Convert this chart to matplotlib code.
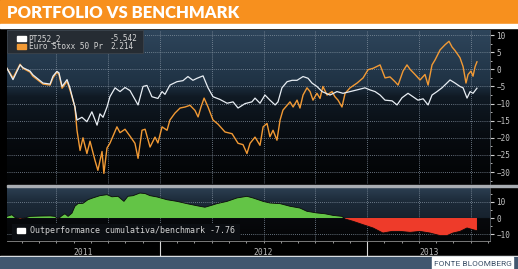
import matplotlib
matplotlib.use("Agg")
import matplotlib.pyplot as plt
import numpy as np
from matplotlib.colors import LinearSegmentedColormap
from matplotlib.patches import Rectangle
from matplotlib.ticker import MultipleLocator
import matplotlib.transforms as mtransforms

title = "PORTFOLIO VS BENCHMARK"
source = "FONTE BLOOMBERG"
name_pt = "PT252_2"
name_eu = "Euro Stoxx 50 Pr"
last_pt = "-5.542"
last_eu = "2.214"
op_name = "Outperformance cumulativa/benchmark"
last_op = "-7.76"
years = ["2011", "2012", "2013"]
year_centers = [2011.63, 2012.5, 2013.3]
quarters = [2011.5, 2011.75, 2012.0, 2012.25, 2012.5, 2012.75, 2013.0, 2013.25, 2013.5]

# time as decimal year
pt_t = [2011.261, 2011.290, 2011.324, 2011.338, 2011.372, 2011.386, 2011.435, 2011.469, 2011.483, 2011.502,
        2011.512, 2011.527, 2011.551, 2011.565, 2011.589, 2011.599, 2011.623, 2011.647, 2011.671, 2011.696,
        2011.710, 2011.725, 2011.744, 2011.758, 2011.783, 2011.807, 2011.831, 2011.855, 2011.894, 2011.918,
        2011.937, 2011.961, 2011.990, 2012.010, 2012.024, 2012.048, 2012.082, 2012.111, 2012.135, 2012.159,
        2012.179, 2012.208, 2012.232, 2012.256, 2012.290, 2012.324, 2012.353, 2012.377, 2012.411, 2012.444,
        2012.459, 2012.483, 2012.507, 2012.531, 2012.556, 2012.570, 2012.589, 2012.614, 2012.638, 2012.662,
        2012.691, 2012.715, 2012.734, 2012.758, 2012.783, 2012.821, 2012.855, 2012.884, 2012.918, 2012.952,
        2012.990, 2013.014, 2013.039, 2013.063, 2013.087, 2013.121, 2013.145, 2013.169, 2013.198, 2013.222,
        2013.246, 2013.271, 2013.295, 2013.314, 2013.338, 2013.362, 2013.386, 2013.401, 2013.425, 2013.449,
        2013.464, 2013.483, 2013.498, 2013.512, 2013.531]
pt_v = [0.3, -3, 1.3, 0.5, -0.5, -1.6, -4, -4.3, -2, -0.6,
        -1, -5, -3, -5.4, -11, -14.8, -14, -15.3, -12.4, -16.3,
        -13, -14, -11, -8, -5.4, -6.5, -5.3, -6.2, -10.4, -5,
        -4.7, -8, -8.5, -6.5, -7.3, -4.6, -3.6, -3.3, -2.1, -3.2,
        -2.6, -1.9, -5.4, -8, -8.8, -9.9, -9.5, -11.3, -10, -9.5,
        -8.4, -9.9, -7.5, -9, -10.4, -9.5, -5.4, -3.6, -3.2, -3.2,
        -2.1, -2.6, -4, -5, -6.5, -7.5, -6.5, -7, -6.5, -6,
        -5.4, -6, -6.5, -7.5, -9, -9.2, -10.4, -8.3, -7, -8,
        -9, -8.6, -10.4, -7.5, -6.5, -5.4, -4, -3.1, -4, -5,
        -5.4, -8.4, -6.5, -7, -5.5]

eu_t = [2011.261, 2011.290, 2011.324, 2011.338, 2011.372, 2011.386, 2011.435, 2011.469, 2011.483, 2011.502,
        2011.512, 2011.527, 2011.551, 2011.565, 2011.589, 2011.599, 2011.614, 2011.628, 2011.647, 2011.662,
        2011.686, 2011.700, 2011.720, 2011.729, 2011.744, 2011.758, 2011.773, 2011.792, 2011.807, 2011.831,
        2011.855, 2011.879, 2011.894, 2011.913, 2011.928, 2011.952, 2011.976, 2011.990, 2012.010, 2012.034,
        2012.048, 2012.072, 2012.097, 2012.121, 2012.145, 2012.169, 2012.184, 2012.198, 2012.213, 2012.232,
        2012.256, 2012.280, 2012.314, 2012.348, 2012.377, 2012.401, 2012.420, 2012.435, 2012.459, 2012.483,
        2012.498, 2012.517, 2012.531, 2012.546, 2012.565, 2012.580, 2012.594, 2012.614, 2012.628, 2012.643,
        2012.662, 2012.676, 2012.691, 2012.710, 2012.725, 2012.739, 2012.758, 2012.773, 2012.787, 2012.807,
        2012.831, 2012.845, 2012.860, 2012.879, 2012.894, 2012.918, 2012.952, 2012.981, 2013.005, 2013.029,
        2013.063, 2013.087, 2013.111, 2013.135, 2013.150, 2013.174, 2013.193, 2013.208, 2013.232, 2013.256,
        2013.280, 2013.295, 2013.314, 2013.329, 2013.353, 2013.377, 2013.396, 2013.411, 2013.425, 2013.449,
        2013.464, 2013.478, 2013.488, 2013.502, 2013.512, 2013.522, 2013.531]
eu_v = [0.3, -2.5, 1.5, 0.3, -0.8, -2, -4.3, -4.6, -2.5, -0.8,
        -1.5, -5.5, -3.5, -6, -11, -17.8, -23.7, -20, -24.6, -21,
        -26.6, -29.5, -24, -30.4, -23, -21.6, -19.5, -16.8, -18.5, -17.5,
        -19.5, -21.6, -26, -17.8, -17.5, -22.7, -19.8, -21.5, -16.8, -17.8,
        -14.8, -12.8, -11.3, -11, -10.5, -12, -13.9, -11, -8.4, -11,
        -14.8, -16, -18.3, -18.8, -21.6, -22, -24.6, -21.6, -19.8, -22.2,
        -16.8, -15.8, -19.7, -17.8, -20.7, -14.8, -11.9, -10.5, -9.5, -11,
        -9, -11.3, -7.5, -5.4, -6.5, -9, -7, -8.5, -5, -7.5,
        -6.5, -8, -9, -11, -7, -5.4, -4, -2.5, -0.1, 0.3,
        1.3, -2.5, -2.2, -3.6, -4.6, -0.5, 1.3, 0, -1.5, -3.1,
        -1.5, -4.6, 1.3, 2.8, 5.7, 7.2, 8.2, 6.5, 5.5, 3.4,
        0.8, -4, -1.5, -0.5, -2, 0.8, 2.2]

op_t = [2011.261, 2011.285, 2011.300, 2011.324, 2011.348, 2011.372, 2011.420, 2011.469, 2011.493, 2011.507,
        2011.527, 2011.541, 2011.556, 2011.575, 2011.589, 2011.604, 2011.628, 2011.652, 2011.676, 2011.710,
        2011.744, 2011.768, 2011.797, 2011.826, 2011.845, 2011.870, 2011.903, 2011.928, 2011.952, 2011.986,
        2012.034, 2012.082, 2012.130, 2012.179, 2012.217, 2012.242, 2012.275, 2012.324, 2012.372, 2012.420,
        2012.449, 2012.498, 2012.531, 2012.580, 2012.628, 2012.676, 2012.710, 2012.758, 2012.797, 2012.836,
        2012.879, 2012.894, 2012.932, 2012.981, 2013.029, 2013.077, 2013.121, 2013.159, 2013.208, 2013.256,
        2013.304, 2013.353, 2013.386, 2013.415, 2013.449, 2013.483, 2013.507, 2013.531]
op_v = [1, 2, 0.3, -0.6, 0, 1, 1.2, 1.3, 1, -0.6,
        1.5, 2.6, 1, 3, 7.2, 8.8, 9, 11.2, 12.3, 13.7,
        14.3, 13, 13.3, 10.2, 13.3, 13.7, 15.3, 15, 13.7, 12.9,
        11.2, 10.2, 8.8, 7.5, 6.6, 7.5, 8.8, 10.2, 12.3, 13.3,
        12.3, 10.2, 9.2, 8.8, 7.2, 6.1, 4.1, 3.1, 2.6, 1.6,
        1, -0.6, -2, -4.1, -6.1, -9.2, -8.2, -8.2, -8.8, -8.2,
        -9.2, -10.8, -10.8, -9.2, -8.2, -6.1, -7, -7.8]

W, H = 518, 269
fig = plt.figure(figsize=(W / 100, H / 100), dpi=100, facecolor="black")


def fy(y):
    return 1 - y / H


def fit_text(t, width_px):
    # shrink/grow a text so that it spans width_px pixels
    r = fig.canvas.get_renderer()
    w = t.get_window_extent(renderer=r).width
    t.set_fontsize(t.get_fontsize() * width_px / w)


# frame pieces
fig.patches.append(Rectangle((0, fy(24)), 1, 24 / H, transform=fig.transFigure, color="#f7901e"))
fig.patches.append(Rectangle((0, fy(28)), 1, 4 / H, transform=fig.transFigure, color="white"))
fig.patches.append(Rectangle((0, 0), 1, 13 / H, transform=fig.transFigure, color="white"))
fig.patches.append(Rectangle((0, 0), 1, 12 / H, transform=fig.transFigure, color="#41576f"))
fig.patches.append(Rectangle((432 / W, 0), 81 / W, 12 / H, transform=fig.transFigure, color="white"))
fig.patches.append(Rectangle((7 / W, fy(187)), 511 / W, 2.5 / H, transform=fig.transFigure, color="#a9adb2"))

t_title = fig.text(7 / W, fy(18.5), title, color="white", fontsize=13, fontweight="heavy",
                   family=["Lato", "DejaVu Sans"], va="baseline", ha="left")
fit_text(t_title, 230)
t_src = fig.text(472.5 / W, fy(266.5), source, color="#3d5169", fontsize=7.5,
                 family=["Roboto", "DejaVu Sans"], va="baseline", ha="center")
fit_text(t_src, 78)

mono = "DejaVu Sans Mono"
grid_kw = dict(color="#8593a2", linestyle=(0, (1, 1.5)), linewidth=0.6, zorder=1)

# ---- main panel
ax1 = fig.add_axes([7 / W, fy(184), 483 / W, 154 / H])
x0, x1 = 2011.261, 2013.594
y0, y1 = -33.5, 11.5
cmap1 = LinearSegmentedColormap.from_list("bg1", [(0, "#020304"), (0.3, "#070b10"), (0.567, "#101a24"),
                                                  (0.656, "#1f3244"), (1, "#2e455b")])
ax1.imshow(np.linspace(0, 1, 200).reshape(-1, 1), extent=[x0, x1, y0, y1], origin="lower",
           aspect="auto", cmap=cmap1, zorder=0)
for q in quarters:
    ax1.axvline(q, **grid_kw)
for lv in range(-30, 11, 5):
    ax1.axhline(lv, **grid_kw)

ax1.plot(eu_t, eu_v, color="#f29a35", lw=1.0, zorder=3)
ax1.plot(pt_t, pt_v, color="#e8eef4", lw=0.9, zorder=4)
ax1.set_xlim(x0, x1)
ax1.set_ylim(y0, y1)
ax1.set_xticks([])
ax1.yaxis.tick_right()
ax1.set_yticks(range(-30, 11, 5))
ax1.yaxis.set_minor_locator(MultipleLocator(2.5))
ax1.tick_params(axis="y", which="major", length=3, width=0.8, color="#d0d0d0", labelsize=5.5,
                labelcolor="#c4c4c4", pad=1.5)
ax1.tick_params(axis="y", which="minor", length=1.5, width=0.6, color="#d0d0d0")
for lab in ax1.get_yticklabels():
    lab.set_family(mono)
for s in ax1.spines.values():
    s.set_visible(False)
ax1.spines["right"].set_visible(True)
ax1.spines["right"].set_color("#5a6068")
ax1.spines["right"].set_linewidth(0.6)

# legend box
ax1.add_patch(Rectangle((0, 0.851), 0.2816, 0.149, transform=ax1.transAxes, facecolor="#262c33",
                        edgecolor="#3c434b", lw=0.6, zorder=5))
ax1.add_patch(Rectangle((0.0207, 0.929), 0.0186, 0.032, transform=ax1.transAxes, color="white", zorder=6))
ax1.add_patch(Rectangle((0.0207, 0.877), 0.0186, 0.032, transform=ax1.transAxes, color="#f29a35", zorder=6))
for ty, nm, lv in ((0.945, name_pt, last_pt), (0.893, name_eu, last_eu)):
    ax1.text(0.045, ty, nm, transform=ax1.transAxes, color="#d4d4d4", fontsize=5.6, family=mono,
             va="center", zorder=7)
    ax1.text(0.213, ty, lv, transform=ax1.transAxes, color="#d4d4d4", fontsize=5.6, family=mono,
             va="center", zorder=7)

# ---- outperformance panel
ax2 = fig.add_axes([7 / W, fy(241), 483 / W, 53 / H])
z0, z1 = -14.1, 18.4
cmap2 = LinearSegmentedColormap.from_list("bg2", [(0, "#040506"), (0.43, "#07090c"), (0.434, "#17222e"),
                                                  (0.74, "#1c2a38"), (1, "#2b3e51")])
ax2.imshow(np.linspace(0, 1, 200).reshape(-1, 1), extent=[x0, x1, z0, z1], origin="lower",
           aspect="auto", cmap=cmap2, zorder=0)
for q in quarters:
    ax2.axvline(q, **grid_kw)
for lv in (-10, 10):
    ax2.axhline(lv, **grid_kw)

op_t_a = np.array(op_t)
op_v_a = np.array(op_v)
ax2.fill_between(op_t_a, op_v_a, 0, where=op_v_a >= 0, interpolate=True, color="#63c446", lw=0, zorder=2)
ax2.fill_between(op_t_a, op_v_a, 0, where=op_v_a <= 0, interpolate=True, color="#ee3b2a", lw=0, zorder=2)
ax2.plot(op_t_a, op_v_a, color="#0a0a0a", lw=0.6, zorder=3)
ax2.plot([op_t[-1], op_t[-1]], [op_v[-1], 0], color="#0a0a0a", lw=0.6, zorder=3)

ax2.set_xlim(x0, x1)
ax2.set_ylim(z0, z1)
ax2.yaxis.tick_right()
ax2.set_yticks([-10, 0, 10])
ax2.yaxis.set_minor_locator(MultipleLocator(5))
ax2.tick_params(axis="y", which="major", length=3, width=0.8, color="#d0d0d0", labelsize=5.5,
                labelcolor="#c4c4c4", pad=1.5)
ax2.tick_params(axis="y", which="minor", length=1.5, width=0.6, color="#d0d0d0")
for lab in ax2.get_yticklabels():
    lab.set_family(mono)
ax2.set_xticks([2012, 2013])
ax2.set_xticklabels(["", ""])
ax2.set_xticks(np.arange(2011 + 4 / 12, 2013.6, 1 / 12), minor=True)
ax2.tick_params(axis="x", which="major", length=14, width=0.8, color="#d8d8d8")
ax2.tick_params(axis="x", which="minor", length=1.5, width=0.6, color="#b0b0b0")
for s in ax2.spines.values():
    s.set_visible(False)
ax2.spines["bottom"].set_visible(True)
ax2.spines["bottom"].set_color("#8c8c8c")
ax2.spines["bottom"].set_linewidth(0.6)
ax2.spines["right"].set_visible(True)
ax2.spines["right"].set_color("#5a6068")
ax2.spines["right"].set_linewidth(0.6)

trans = mtransforms.blended_transform_factory(ax2.transData, ax2.transAxes)
for yc, yl in zip(year_centers, years):
    ax2.text(yc, -0.21, yl, transform=trans, color="#b8b8b8", fontsize=5.8, family=mono,
             ha="center", va="center", clip_on=False)

ax2.add_patch(Rectangle((0.0104, 0.02), 0.472, 0.30, transform=ax2.transAxes, facecolor="#0b0e12",
                        edgecolor="none", zorder=5))
ax2.add_patch(Rectangle((0.021, 0.15), 0.017, 0.095, transform=ax2.transAxes, color="white", zorder=6))
ax2.text(0.0476, 0.19, op_name + " " + last_op, transform=ax2.transAxes, color="#d4d4d4", fontsize=6,
         family=mono, va="center", zorder=7)

fig.savefig("out.png", dpi=100, facecolor=fig.get_facecolor())
